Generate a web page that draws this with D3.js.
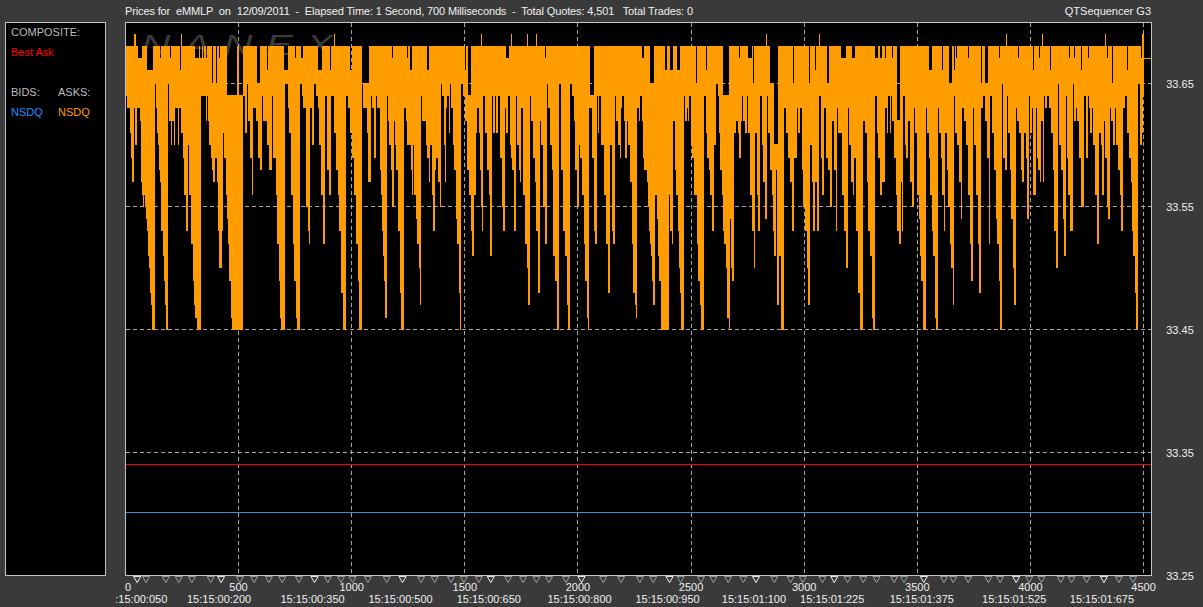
<!DOCTYPE html>
<html><head><meta charset="utf-8">
<script src="https://cdn.jsdelivr.net/npm/d3@7"></script>
<style>html,body{margin:0;padding:0;background:#3a3a3a;overflow:hidden}text{font-family:"Liberation Sans",Arial,sans-serif;font-size:11px;white-space:pre}</style>
</head><body><svg id="c" width="1203" height="607"></svg>
<script>
const quotesPerBucket = 4.42;
// [bucket start, lowest ask in cents above $33] - a step holds until the next one
const askLowSteps = [[0,64],[1,63],[4,61],[5,59],[6,57],[8,63],[9,60],[11,63],[14,62],[15,57],[16,56],[17,55],[18,56],[19,55],[20,54],[21,53],[22,51],[23,50],[24,48],[25,47],[26,45],[29,65],[30,63],[31,61],[32,60],[33,58],[34,57],[35,53],[37,51],[38,49],[39,47],[40,45],[42,65],[43,62],[45,60],[46,62],[48,60],[49,63],[52,60],[53,63],[55,61],[57,59],[58,56],[60,53],[62,60],[63,56],[65,52],[67,49],[68,47],[69,46],[71,45],[75,64],[80,62],[81,64],[82,62],[83,60],[85,59],[86,58],[87,57],[89,59],[91,57],[92,53],[93,50],[96,53],[97,61],[98,59],[100,56],[101,54],[102,52],[103,49],[105,46],[106,45],[117,64],[119,61],[121,65],[122,62],[124,59],[126,56],[127,63],[130,62],[132,59],[134,58],[136,64],[137,62],[141,60],[143,58],[146,64],[147,59],[150,56],[151,52],[153,49],[154,46],[155,45],[159,65],[162,63],[163,61],[165,56],[167,52],[168,49],[170,46],[171,45],[174,65],[176,64],[177,63],[180,55],[182,53],[183,52],[184,63],[186,60],[188,65],[190,64],[192,63],[193,60],[195,56],[197,52],[199,64],[201,58],[203,56],[205,64],[208,61],[210,58],[212,56],[213,53],[215,48],[217,45],[220,64],[222,63],[224,61],[226,59],[228,56],[230,52],[232,49],[233,45],[236,65],[237,63],[241,61],[242,57],[245,64],[246,63],[248,59],[250,64],[251,63],
[254,58],[255,56],[256,53],[257,51],[258,49],[259,46],[261,64],[262,62],[263,60],[265,58],[266,55],[268,62],[269,60],[270,58],[272,53],[274,48],[275,45],[278,63],[280,62],[281,60],[285,58],[286,56],[287,60],[288,56],[290,54],[291,52],[293,50],[294,47],[295,64],[296,62],[300,60],[301,59],[303,57],[304,60],[306,56],[307,53],[309,58],[310,59],[312,57],[314,55],[315,65],[316,64],[318,60],[319,57],[320,63],[321,64],[323,61],[324,65],[325,63],[327,60],[328,58],[330,54],[331,52],[333,48],[334,45],[335,65],[337,64],[339,62],[341,58],[343,56],[345,53],[346,51],[348,56],[350,61],[351,63],[353,61],[354,58],[355,55],[356,53],[357,64],[359,61],[361,58],[363,56],[364,51],[366,64],[367,61],[369,64],[370,61],[372,64],[374,59],[376,55],[377,53],[379,63],[380,61],[382,64],[384,60],[385,59],[386,58],[388,53],[390,64],[391,60],[393,58],[394,57],[395,63],[397,56],[399,52],[401,50],[402,47],[404,64],[405,62],[407,59],[409,57],[410,53],[412,48],[414,62],[415,60],[417,55],[419,52],[421,65],[422,63],[424,60],[426,58],[427,51],[429,49],[431,45],[433,65],[435,58],[437,53],[439,51],[441,47],[442,45],[444,65],[446,64],[448,62],[449,58],[451,55],[453,60],[454,59],[456,56],[458,52],[459,49],[461,46],[462,45],[463,63],[466,59],[468,53],[469,52],[471,64],[472,61],[473,64],[475,60],[478,56],[480,52],[482,48],[484,60],[486,53],[487,52],[489,64],[490,62],[492,60],[494,59],[495,63],[496,64],[498,62],[499,59],[501,62],[502,60],[504,57],[506,52],[507,48],
[509,47],[510,46],[511,63],[513,62],[514,64],[516,62],[517,59],[518,58],[521,57],[522,55],[523,53],[524,52],[525,51],[526,49],[527,47],[529,56],[531,54],[532,51],[533,49],[535,45],[543,56],[544,53],[546,52],[547,62],[549,58],[550,56],[552,53],[553,50],[554,48],[555,45],[558,64],[559,62],[561,63],[562,62],[563,64],[565,60],[566,59],[568,56],[571,52],[572,49],[574,47],[575,45],[578,64],[580,61],[581,59],[583,58],[584,56],[586,53],[588,60],[590,65],[592,64],[593,61],[594,58],[596,56],[597,53],[598,52],[600,50],[601,46],[603,45],[604,54],[605,50],[606,49],[608,61],[610,62],[612,61],[613,59],[615,62],[616,64],[617,62],[619,61],[621,64],[622,61],[624,56],[626,53],[628,50],[629,61],[631,56],[632,53],[634,64],[636,60],[637,57],[639,54],[641,64],[642,61],[644,58],[646,56],[647,53],[648,51],[650,58],[651,47],[653,51],[655,45],[658,63],[660,61],[662,59],[664,57],[666,53],[668,59],[671,63],[672,61],[674,63],[676,58],[677,55],[679,53],[681,50],[682,47],[684,60],[686,57],[687,53],[689,57],[691,53],[693,64],[695,59],[696,56],[698,63],[700,59],[702,58],[704,55],[706,62],[708,58],[710,53],[711,63],[712,61],[716,56],[718,53],[720,50],[722,63],[723,60],[725,57],[727,56],[728,59],[730,53],[732,48],[734,45],[737,62],[739,61],[741,57],[742,53],[744,51],[746,46],[747,45],[749,64],[751,61],[752,59],[754,56],[756,57],[759,63],[761,61],[762,64],
[764,61],[765,64],[766,62],[768,59],[770,56],[771,53],[773,52],[775,57],[776,53],[777,64],[779,60],[780,59],[782,62],[784,57],[786,55],[788,63],[789,61],[791,56],[793,54],[794,51],[795,49],[797,45],[800,63],[801,61],[803,59],[804,56],[806,53],[807,51],[809,46],[810,45],[812,63],[813,61],[815,59],[816,56],[818,53],[819,61],[821,58],[822,55],[824,52],[825,50],[827,47],[828,64],[829,61],[831,60],[833,57],[835,54],[836,63],[838,62],[840,60],[842,56],[844,52],[845,49],[847,63],[848,60],[850,56],[852,52],[853,48],[855,63],[857,64],[859,62],[861,59],[863,52],[864,64],[866,61],[868,58],[870,54],[871,52],[873,49],[874,45],[876,65],[877,59],[879,58],[881,64],[882,61],[884,58],[885,54],[887,50],[888,47],[890,63],[891,62],[893,61],[895,58],[896,57],[898,61],[900,59],[901,54],[903,64],[904,61],[906,63],[907,56],[910,63],[911,59],[912,58],[914,57],[915,62],[917,57],[918,64],[919,63],[921,64],[923,63],[925,61],[927,58],[928,53],[930,50],[932,65],[933,60],[935,58],[937,54],[938,51],[940,64],[941,59],[942,56],[944,53],[947,65],[948,62],[950,63],[951,62],[953,59],[955,55],[958,64],[960,59],[962,64],[963,63],[964,61],[966,63],[967,60],[969,56],[971,52],[973,61],[975,60],[976,56],[978,62],[979,59],[981,55],[982,54],[984,63],[985,62],[987,60],[989,63],[990,60],[992,58],[994,56],[995,53],[997,63],[999,64],[1001,61],[1003,59],[1005,57],[1006,53],[1007,51],[1009,48],[1010,45],[1012,65],[1014,60],[1016,61],[1017,64]];
const bucketCount = 1018;
// [first bucket, last bucket, highest ask in cents] where the ask fell below its usual 33.68 ceiling
const askHighDips = [[12,15,67],[21,26,66],[34,34,67],[44,44,67],[54,54,66],[69,72,67],[74,75,67],[77,77,67],[80,80,67],[86,86,65],[90,90,65],[93,93,67],[101,110,64],[113,116,64],[131,133,65],[141,141,66],[158,161,66],[169,169,67],[175,176,67],[192,195,66],[204,204,66],[224,225,66],[236,242,65],[266,266,67],[281,281,67],[284,285,66],[301,302,66],[339,339,66],[342,344,64],[380,382,67],[419,419,67],[464,467,64],[516,517,67],[524,527,65],[539,540,66],[544,546,66],[551,553,66],[570,570,65],[580,580,66],[597,602,64],[613,613,67],[622,625,67],[627,627,65],[644,647,65],[648,651,60],[667,667,65],[683,683,65],[689,689,66],[701,702,65],[715,719,67],[726,728,67],[749,751,67],[754,755,67],[759,759,67],[766,766,67],[771,773,62],[803,805,66],[816,816,66],[823,825,65],[828,828,66],[830,830,67],[842,842,67],[855,855,65],[859,861,65],[873,873,67],[892,892,67],[907,907,66],[913,913,67],[924,924,66],[943,943,67],[948,948,67],[955,955,66],[962,962,67],[981,981,67],[986,986,65],[1001,1001,66],[1015,1015,67]];
const askSpikes = [8,9,55,208,355,385,401,410,640,693,880,916,979,1016,1017];
const lastAsk = 33.67, bestAsk = 33.34, bestBid = 33.301;
const priceTicks = [33.65,33.55,33.45,33.35,33.25];
const quoteTicks = [0,500,1000,1500,2000,2500,3000,3500,4000,4500];
const timeMarks = [52,423,836,1225,1615,2016,2405,2787,3133,3529,3937,4325];
const timeLabels = ["15:15:00:050","15:15:00:200","15:15:00:350","15:15:00:500","15:15:00:650","15:15:00:800","15:15:00:950","15:15:01:100","15:15:01:225","15:15:01:375","15:15:01:525","15:15:01:675"];
const minorMarks = [91,179,236,294,377,506,569,634,693,767,895,953,1004,1072,1155,1307,1367,1439,1496,1562,1692,1758,1817,1872,1947,2112,2191,2274,2333,2454,2544,2599,2664,2731,2868,2940,2994,3081,3192,3261,3320,3398,3441,3618,3659,3725,3814,3866,3995,4049,4134,4182,4249,4391,4454];
const titleText = "Prices for  eMMLP  on  12/09/2011  -  Elapsed Time: 1 Second, 700 Milliseconds  -  Total Quotes: 4,501   Total Trades: 0";

const bg="#3a3a3a", frame="#c4c4c4", gridC="#a8a8a8", orange="#ff9c00";
const svg=d3.select("#c");
const x=d3.scaleLinear().domain([0,4000]).range([125.4,1030.4]);
const y=d3.scaleLinear().domain([33.25,33.65]).range([575.6,83.3]);
const py=p=>Math.floor(y(p));
const cents=c=>33+c/100;

svg.append("rect").attr("width",1203).attr("height",607).attr("fill",bg);
// side panel
svg.append("rect").attr("x",5.5).attr("y",22.5).attr("width",100).attr("height",553).attr("fill","#000").attr("stroke",frame);
const panel=[["COMPOSITE:",11,36,"#bdbdbd"],["Best Ask",11,56,"#ff0000"],["BIDS:",11,96,"#bdbdbd"],["ASKS:",58,96,"#bdbdbd"],["NSDQ",11,116,"#1e90ff"],["NSDQ",58,116,"#ff9c00"]];
svg.selectAll("text.p").data(panel).join("text").attr("class","p").attr("x",d=>d[1]).attr("y",d=>d[2]).attr("fill",d=>d[3]).text(d=>d[0]);
// plot
svg.append("rect").attr("x",125.5).attr("y",22.5).attr("width",1026).attr("height",553).attr("fill","#000");
svg.append("text").attr("transform","translate(141,55) scale(1.35,1)").attr("textLength",142).attr("lengthAdjust","spacing").style("font-size","30px").style("font-style","italic").attr("fill","#3a3a3a").text("NANEX");
const g=svg.append("g").attr("shape-rendering","crispEdges");
g.selectAll("line.v").data(quoteTicks.slice(1)).join("line").attr("class","v").attr("x1",d=>Math.floor(x(d))+.5).attr("x2",d=>Math.floor(x(d))+.5).attr("y1",23).attr("y2",575).attr("stroke",gridC).attr("stroke-dasharray","4,3");
g.selectAll("line.h").data(priceTicks.slice(0,4)).join("line").attr("class","h").attr("x1",126).attr("x2",1151).attr("y1",d=>py(d)+.5).attr("y2",d=>py(d)+.5).attr("stroke",gridC).attr("stroke-dasharray","4,3");
// bars
const bars=d3.range(bucketCount).map(b=>({b,low:68,high:68}));
askLowSteps.forEach((s,i)=>{const end=i+1<askLowSteps.length?askLowSteps[i+1][0]:bucketCount;for(let b=s[0];b<end;b++)bars[b].low=s[1];});
askHighDips.forEach(d=>{for(let b=d[0];b<=d[1];b++)bars[b].high=d[2];});
askSpikes.forEach(b=>bars[b].high=69);
const bx=b=>Math.floor(x((b+1)*quotesPerBucket));
g.selectAll("rect.a").data(bars).join("rect").attr("class","a").attr("x",d=>bx(d.b)).attr("width",1)
 .attr("y",d=>py(cents(d.high))).attr("height",d=>Math.max(1,py(cents(d.low))-py(cents(d.high))+1)).attr("fill",orange);
g.append("line").attr("x1",bx(bucketCount)).attr("x2",1151).attr("y1",py(lastAsk)+.5).attr("y2",py(lastAsk)+.5).attr("stroke",orange);
g.append("line").attr("x1",126).attr("x2",1151).attr("y1",py(bestAsk)+.5).attr("y2",py(bestAsk)+.5).attr("stroke","#ff0000");
g.append("line").attr("x1",126).attr("x2",1151).attr("y1",py(bestBid)+.5).attr("y2",py(bestBid)+.5).attr("stroke","#2a8fe0");
svg.append("rect").attr("x",125.5).attr("y",22.5).attr("width",1026).attr("height",553).attr("fill","none").attr("stroke",frame).attr("shape-rendering","crispEdges");
// markers below the axis
const tri=d3.symbol().type(d3.symbolTriangle).size(22)();
const mark=(data,col)=>svg.selectAll(null).data(data).join("path").attr("d",tri).attr("transform",d=>`translate(${x(d)},578.5) rotate(180)`).attr("fill",bg).attr("stroke",col);
mark(minorMarks,"#a0a0a0");mark(timeMarks,"#f2f2f2");
// labels
svg.selectAll("text.y").data(priceTicks).join("text").attr("class","y").attr("x",1180).attr("y",d=>py(d)+5).attr("text-anchor","middle").attr("fill","#f0f0f0").text(d=>d.toFixed(2));
svg.selectAll("text.x").data(quoteTicks).join("text").attr("class","x").attr("x",d=>d===0?128:x(d)).attr("y",591).attr("text-anchor","middle").attr("fill","#f0f0f0").text(d=>d);
svg.selectAll("text.t").data(timeLabels).join("text").attr("class","t").attr("x",(d,i)=>x(timeMarks[i])-2).attr("y",603).attr("text-anchor","middle").attr("fill","#f0f0f0").text(d=>d);
svg.append("rect").attr("x",0).attr("y",590).attr("width",116).attr("height",17).attr("fill",bg);
svg.append("text").attr("x",125).attr("y",15).attr("textLength",568).attr("lengthAdjust","spacing").attr("fill","#f0f0f0").text(titleText);
svg.append("text").attr("x",1151).attr("y",15).attr("text-anchor","end").attr("fill","#f0f0f0").text("QTSequencer G3");
</script></body></html>
